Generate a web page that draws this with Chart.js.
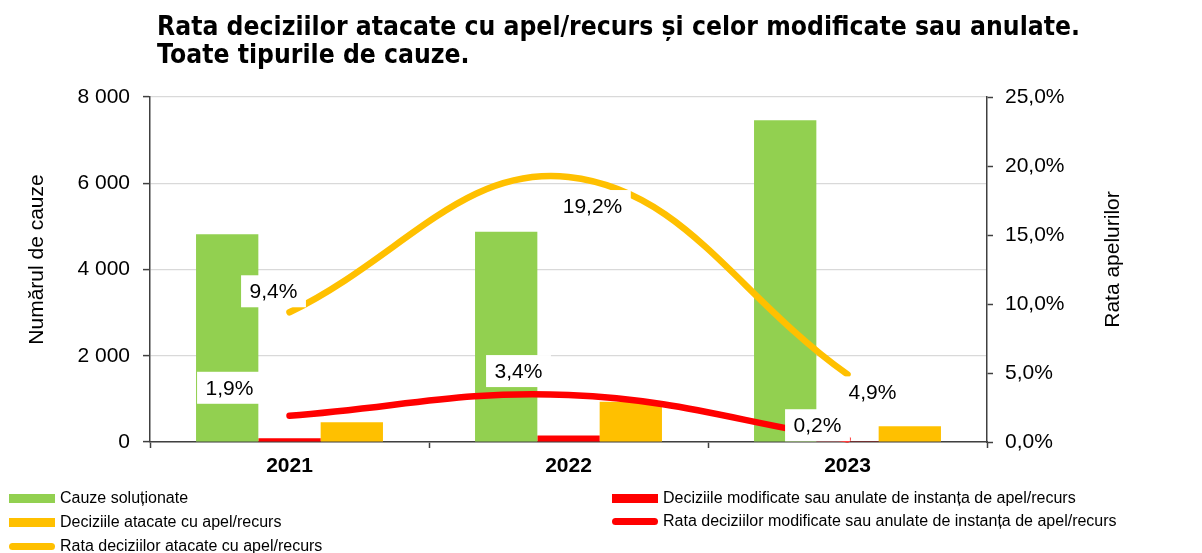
<!DOCTYPE html>
<html>
<head>
<meta charset="utf-8">
<script src="https://cdn.jsdelivr.net/npm/chart.js@4.4.1/dist/chart.umd.min.js"></script>
<style>
  html, body { margin: 0; padding: 0; background: #fff; }
  #wrap { position: relative; width: 1202px; height: 553px; overflow: hidden; }
  #chart { position: absolute; left: 0; top: 0; }
  #title {
    position: absolute; left: 157px; top: 12px;
    font-family: 'DejaVu Sans', sans-serif; font-weight: bold;
    font-size: 26px; line-height: 28px; color: #000;
    white-space: nowrap; transform-origin: 0 0;
  }
  .legend-item {
    position: absolute; height: 20px; display: flex; align-items: center;
    font-family: 'Liberation Sans', Arial, sans-serif; font-size: 16px; color: #000;
    white-space: nowrap;
  }
  .legend-item .sw { width: 46px; margin-right: 5px; }
</style>
</head>
<body>
<div id="wrap">
  <canvas id="chart" width="1202" height="553"></canvas>
  <div id="title"><span id="t1">Rata deciziilor atacate cu apel/recurs și celor modificate sau anulate.</span><br>Toate tipurile de cauze.</div>
  <div id="legend"></div>
</div>
<script>
// Date
const years = ['2021', '2022', '2023'];
const solvedCases = [4820, 4875, 7460];        // Cauze soluționate
const modifiedDecisions = [88, 152, 15];        // Deciziile modificate sau anulate
const appealedDecisions = [457, 935, 368];      // Deciziile atacate cu apel/recurs
const appealRate = [9.4, 19.2, 4.9];            // Rata deciziilor atacate (%)
const modifiedRate = [1.9, 3.4, 0.2];           // Rata deciziilor modificate (%)

const leftTicks = [0, 2000, 4000, 6000, 8000];
const rightTicks = [0, 5, 10, 15, 20, 25];

const leftTitle = 'Numărul de cauze';
const rightTitle = 'Rata apelurilor';

const GREEN = '#92D050';
const ORANGE = '#FFC000';
const RED = '#FF0000';
const AXIS = '#404040';
const GRID = '#d9d9d9';
const FONT = "'Liberation Sans', Arial, sans-serif";

// Deplasarea etichetelor față de punct (px)
const labelOffsets = {
  appeal: [[-16, -21], [24, 29], [25, 18]],
  modified: [[-60, -28], [-50, -24], [-30, -14]]
};

// Poziția elementelor din legendă
const legendSlots = [
  { key: 'solved', x: 9, y: 498 },
  { key: 'appealed', x: 9, y: 522 },
  { key: 'appeal', x: 9, y: 546 },
  { key: 'modifiedBar', x: 612, y: 498 },
  { key: 'modified', x: 612, y: 521 }
];

function fmtThousands(v) {
  return String(v).replace(/\B(?=(\d{3})+(?!\d))/g, ' ');
}
function fmtPct(v) {
  return v.toFixed(1).replace('.', ',') + '%';
}

// Etichete cu fundal alb pe linii
const lineLabels = {
  id: 'lineLabels',
  afterDatasetsDraw(chart) {
    const ctx = chart.ctx;
    ctx.save();
    ctx.font = '21px ' + FONT;
    ctx.textAlign = 'center';
    ctx.textBaseline = 'middle';
    chart.data.datasets.forEach((ds, di) => {
      if (!ds.labelKey) return;
      const meta = chart.getDatasetMeta(di);
      meta.data.forEach((pt, i) => {
        const off = labelOffsets[ds.labelKey][i];
        const text = fmtPct(ds.data[i]);
        const cx = pt.x + off[0];
        const cy = pt.y + off[1];
        const w = ctx.measureText(text).width + 17;
        const h = 32;
        ctx.fillStyle = '#fff';
        ctx.fillRect(cx - w / 2, cy - h / 2, w, h);
        ctx.fillStyle = '#000';
        ctx.fillText(text, cx, cy + 1);
      });
    });
    ctx.restore();
  }
};

// Titlurile axelor (ambele citite de jos în sus)
const axisTitles = {
  id: 'axisTitles',
  afterDraw(chart) {
    const { ctx, chartArea } = chart;
    const cy = (chartArea.top + chartArea.bottom) / 2 - 10;
    ctx.save();
    ctx.font = '21px ' + FONT;
    ctx.fillStyle = '#000';
    ctx.textAlign = 'center';
    ctx.textBaseline = 'middle';
    [[37, leftTitle], [1113, rightTitle]].forEach(([x, text]) => {
      ctx.save();
      ctx.translate(x, cy);
      ctx.rotate(-Math.PI / 2);
      ctx.fillText(text, 0, 0);
      ctx.restore();
    });
    ctx.restore();
  }
};

const chart = new Chart(document.getElementById('chart'), {
  type: 'bar',
  data: {
    labels: years,
    datasets: [
      { key: 'solved', type: 'bar', label: 'Cauze soluționate', data: solvedCases,
        backgroundColor: GREEN, yAxisID: 'y', order: 2 },
      { key: 'modifiedBar', type: 'bar', label: 'Deciziile modificate sau anulate de instanța de apel/recurs',
        data: modifiedDecisions, backgroundColor: RED, yAxisID: 'y', order: 2 },
      { key: 'appealed', type: 'bar', label: 'Deciziile atacate cu apel/recurs', data: appealedDecisions,
        backgroundColor: ORANGE, yAxisID: 'y', order: 2 },
      { key: 'appeal', labelKey: 'appeal', type: 'line', label: 'Rata deciziilor atacate cu apel/recurs',
        data: appealRate, borderColor: ORANGE, backgroundColor: ORANGE, yAxisID: 'y1', order: 1 },
      { key: 'modified', labelKey: 'modified', type: 'line',
        label: 'Rata deciziilor modificate sau anulate de instanța de apel/recurs',
        data: modifiedRate, borderColor: RED, backgroundColor: RED, yAxisID: 'y1', order: 1 }
    ]
  },
  options: {
    responsive: false,
    animation: false,
    layout: { padding: { top: 97, left: 0, right: 0, bottom: 0 } },
    datasets: {
      bar: { categoryPercentage: 0.67, barPercentage: 1.0, borderWidth: 0 },
      line: { borderWidth: 6.5, tension: 0.4, pointRadius: 0, borderCapStyle: 'round', fill: false, clip: false }
    },
    plugins: {
      legend: { display: false },
      tooltip: { enabled: false },
      title: { display: false }
    },
    scales: {
      x: {
        grid: { display: true, drawOnChartArea: false, offset: true, tickLength: 6, tickColor: AXIS, tickWidth: 1.5 },
        border: { color: AXIS, width: 1.5 },
        ticks: { color: '#000', padding: 6, font: { family: FONT, size: 21, weight: 'bold' } },
        afterFit(scale) { scale.height = 111; }
      },
      y: {
        position: 'left',
        min: 0, max: 8000,
        afterBuildTicks(scale) { scale.ticks = leftTicks.map(v => ({ value: v })); },
        ticks: { color: '#000', padding: 13, font: { family: FONT, size: 21 }, callback: v => fmtThousands(v) },
        grid: { color: GRID, lineWidth: 1.2, tickColor: AXIS, tickLength: 7, tickWidth: 1.5 },
        border: { color: AXIS, width: 1.5 },
        afterFit(scale) { scale.width = 150; }
      },
      y1: {
        position: 'right',
        min: 0, max: 25,
        afterBuildTicks(scale) { scale.ticks = rightTicks.map(v => ({ value: v })); },
        ticks: { color: '#000', padding: 12, font: { family: FONT, size: 21 }, callback: v => fmtPct(v) },
        grid: { drawOnChartArea: false, tickColor: AXIS, tickLength: 6, tickWidth: 1.5 },
        border: { color: AXIS, width: 1.5 },
        afterFit(scale) { scale.width = 215; }
      }
    }
  },
  plugins: [lineLabels, axisTitles]
});

// Legenda (construită din seturile de date)
const legendEl = document.getElementById('legend');
legendSlots.forEach(slot => {
  const ds = chart.data.datasets.find(d => d.key === slot.key);
  const item = document.createElement('div');
  item.className = 'legend-item';
  item.style.left = slot.x + 'px';
  item.style.top = (slot.y - 10) + 'px';
  const sw = document.createElement('div');
  sw.className = 'sw';
  sw.style.background = ds.type === 'line' ? ds.borderColor : ds.backgroundColor;
  sw.style.height = ds.type === 'line' ? '7px' : '9px';
  if (ds.type === 'line') sw.style.borderRadius = '4px';
  item.appendChild(sw);
  item.appendChild(document.createTextNode(ds.label));
  legendEl.appendChild(item);
});

// Titlul: potrivit pe lățimea din original
const t1 = document.getElementById('t1');
const targetWidth = 923;
const w = t1.getBoundingClientRect().width;
document.getElementById('title').style.transform = 'scaleX(' + (targetWidth / w) + ')';
</script>
</body>
</html>
